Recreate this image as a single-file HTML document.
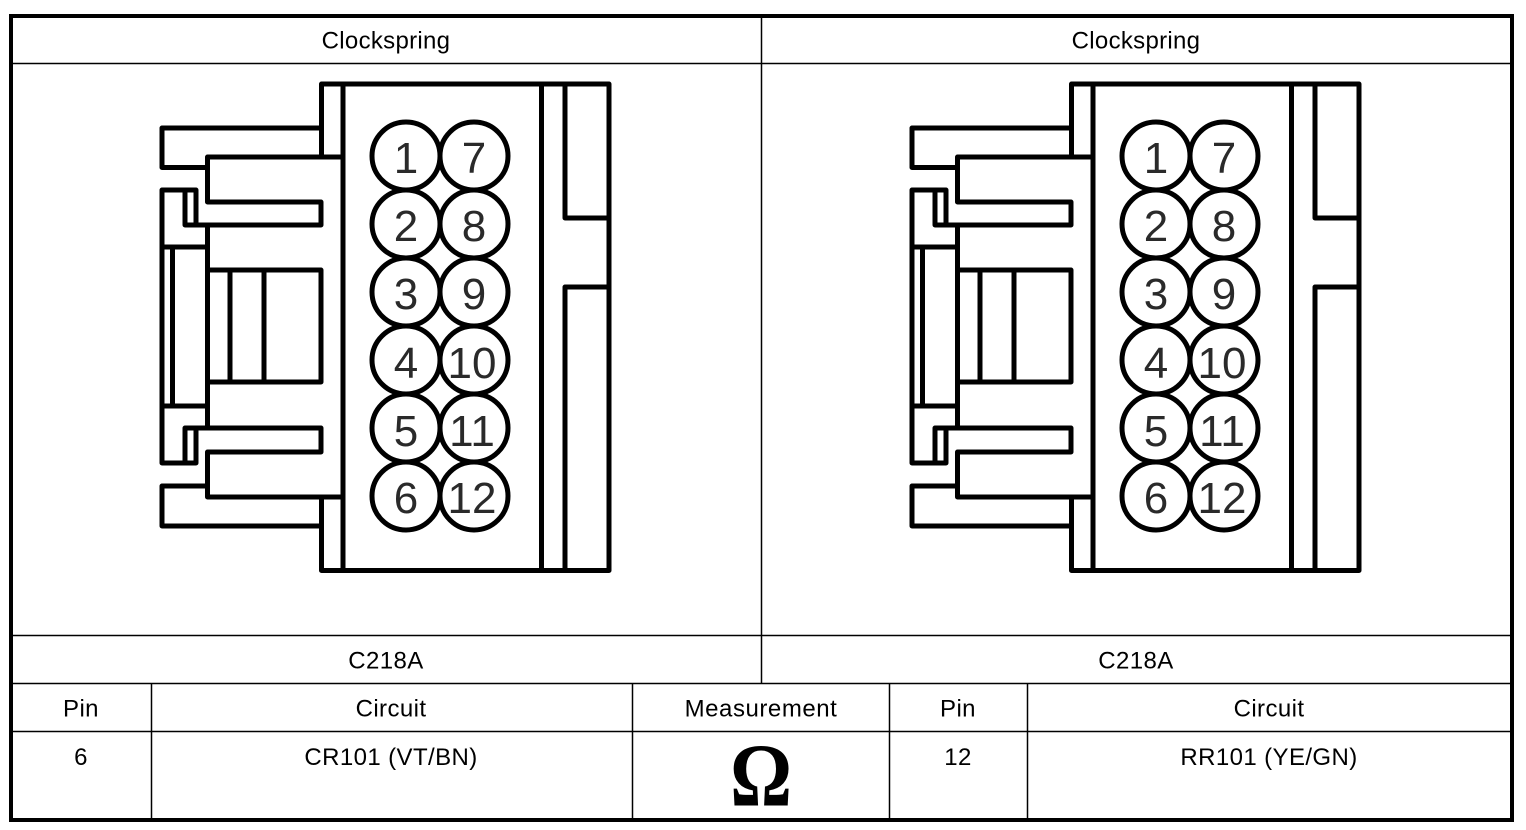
<!DOCTYPE html>
<html><head><meta charset="utf-8"><style>
html,body{margin:0;padding:0;background:#fff;width:1526px;height:830px;overflow:hidden}
svg{display:block}
text{font-family:"Liberation Sans",sans-serif;fill:#000}
.t{font-size:24px;text-anchor:middle;letter-spacing:.4px}
.n{font-size:44px;text-anchor:middle;fill:#2a2a2a}
.c{fill:#fff;stroke:#000;stroke-width:5}
.l{fill:none;stroke:#000;stroke-width:5;stroke-linejoin:round;stroke-linecap:round}
.g{fill:none;stroke:#000;stroke-width:1.5}
</style></head><body>
<svg width="1526" height="830" viewBox="0 0 1526 830" xmlns="http://www.w3.org/2000/svg">
<defs>
<g id="conn">
<path class="l" d="M321.5 157V84H609V570.5H321.5V497M343 84V570.5M541.5 84V570.5M565 84V218H609M565 570.5V287H609"/>
<path class="l" d="M321.5 128H162V167.5H207.5V157H343M207.5 157V202H321V225H185V190M196 225V190H162V463H196V428M185 428V463M185 428H321V452H207.5V497H343M207.5 225V428"/>
<path class="l" d="M162 486H207.5M162 486V526H321.5M162 247H207.5M172.500 247V406M162 406H207.5M207.500 270H321V382H207.500M230 270V382M264 270V382"/>
<g>
<circle class="c" cx="406" cy="156" r="34"/><circle class="c" cx="474" cy="156" r="34"/>
<circle class="c" cx="406" cy="224" r="34"/><circle class="c" cx="474" cy="224" r="34"/>
<circle class="c" cx="406" cy="292" r="34"/><circle class="c" cx="474" cy="292" r="34"/>
<circle class="c" cx="406" cy="360" r="34"/><circle class="c" cx="474" cy="360" r="34"/>
<circle class="c" cx="406" cy="428" r="34"/><circle class="c" cx="474" cy="428" r="34"/>
<circle class="c" cx="406" cy="496" r="34"/><circle class="c" cx="474" cy="496" r="34"/>
</g>
</g>
</defs>
<rect x="11" y="16" width="1501" height="804" fill="#fff" stroke="#000" stroke-width="4"/>
<path class="g" d="M13 63.500H1510M13 635.500H1510M13 683.500H1510M13 731.500H1510M761.500 18V683M151.500 683V818M632.500 683V818M889.500 683V818M1027.500 683V818" stroke-width="1.5"/>
<use href="#conn"/>
<use href="#conn" x="750"/>
<text class="t" x="386" y="48.500" style="letter-spacing:.3px">Clockspring</text>
<text class="t" x="1136" y="48.500" style="letter-spacing:.3px">Clockspring</text>
<text class="t" x="386" y="668.500">C218A</text>
<text class="t" x="1136" y="668.500">C218A</text>
<text class="t" x="81" y="716.500">Pin</text>
<text class="t" x="391" y="716.500">Circuit</text>
<text class="t" x="761" y="716.500" style="letter-spacing:.55px">Measurement</text>
<text class="t" x="958" y="716.500">Pin</text>
<text class="t" x="1269" y="716.500">Circuit</text>
<text class="t" x="81" y="765">6</text>
<text class="t" x="391" y="765">CR101 (VT/BN)</text>
<text class="t" x="958" y="765">12</text>
<text class="t" x="1269" y="765">RR101 (YE/GN)</text>
<text transform="translate(761 805.500) scale(.92 1.07)" x="0" y="0" style="font-family:'Liberation Serif',serif;font-weight:bold;font-size:84px;text-anchor:middle">Ω</text>
<g>
<text class="n" x="406" y="173">1</text><text class="n" x="474" y="173">7</text>
<text class="n" x="406" y="241">2</text><text class="n" x="474" y="241">8</text>
<text class="n" x="406" y="309">3</text><text class="n" x="474" y="309">9</text>
<text class="n" x="406" y="378">4</text><text class="n" x="472" y="378">10</text>
<text class="n" x="406" y="446">5</text><text class="n" x="472" y="446">11</text>
<text class="n" x="406" y="513">6</text><text class="n" x="472" y="513">12</text>
<text class="n" x="1156" y="173">1</text><text class="n" x="1224" y="173">7</text>
<text class="n" x="1156" y="241">2</text><text class="n" x="1224" y="241">8</text>
<text class="n" x="1156" y="309">3</text><text class="n" x="1224" y="309">9</text>
<text class="n" x="1156" y="378">4</text><text class="n" x="1222" y="378">10</text>
<text class="n" x="1156" y="446">5</text><text class="n" x="1222" y="446">11</text>
<text class="n" x="1156" y="513">6</text><text class="n" x="1222" y="513">12</text>
</g>
</svg>
</body></html>
